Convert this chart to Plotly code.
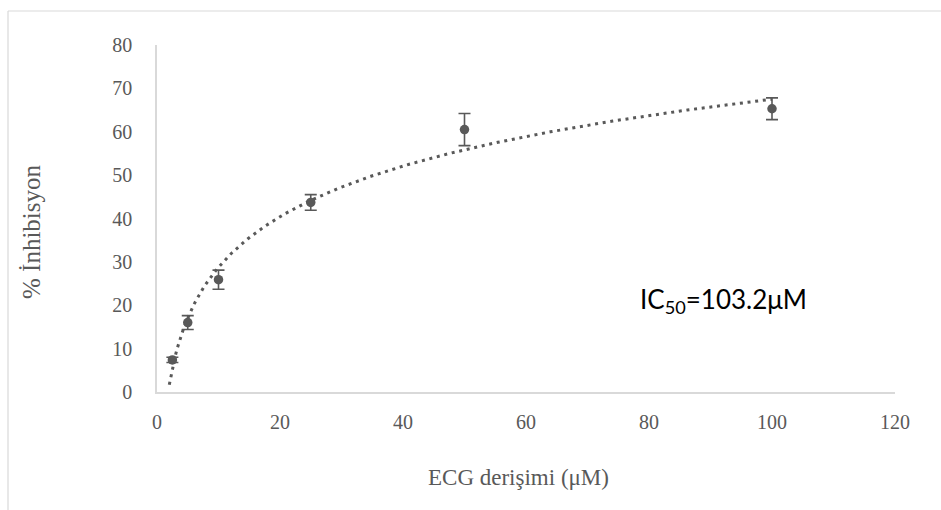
import numpy as np
import plotly.graph_objects as go

# Data
concentration = [2.5, 5, 10, 25, 50, 100]
inhibition = [7.4, 16.0, 25.9, 43.7, 60.5, 65.3]
inhibition_err = [0.6, 1.6, 2.2, 1.8, 3.7, 2.5]
x_ticks = [0, 20, 40, 60, 80, 100, 120]
y_ticks = [0, 10, 20, 30, 40, 50, 60, 70, 80]
trend_start = 2.0
ic50_label = "IC<sub>50</sub>=103.2μM"

# Logarithmic trendline fit (as Excel does)
a, b = np.polyfit(np.log(concentration), inhibition, 1)
tx = np.linspace(trend_start, max(concentration), 300)
ty = a * np.log(tx) + b

grey = "#595959"
fig = go.Figure()
fig.add_trace(go.Scatter(x=tx, y=ty, mode="lines",
                         line=dict(color=grey, width=3, dash="3px,4.7px"),
                         hoverinfo="skip", showlegend=False))
fig.add_trace(go.Scatter(x=concentration, y=inhibition, mode="markers",
                         marker=dict(color=grey, size=9.5),
                         error_y=dict(type="data", array=inhibition_err, visible=True,
                                      color=grey, thickness=1.6, width=6),
                         showlegend=False))

fig.update_layout(
    width=941, height=510,
    margin=dict(l=157, r=46, t=45, b=118),
    paper_bgcolor="white", plot_bgcolor="white",
    xaxis=dict(range=[0, 120], tickvals=x_ticks, showgrid=False, zeroline=False,
               showline=True, linecolor="#d9d9d9", linewidth=1.5, ticks="",
               tickfont=dict(family="Liberation Serif", size=20, color=grey),
               ticklabelstandoff=11),
    yaxis=dict(range=[0, 80], tickvals=y_ticks, showgrid=False, zeroline=False,
               showline=True, linecolor="#d9d9d9", linewidth=1.5, ticks="",
               tickfont=dict(family="Liberation Serif", size=20, color=grey),
               ticklabelstandoff=19),
    annotations=[
        dict(text="ECG derişimi (μM)", xref="paper", yref="paper",
             x=(518 - 157) / 738, y=(392 - 478) / 347, xanchor="center", yanchor="middle",
             showarrow=False, font=dict(family="Liberation Serif", size=23, color=grey)),
        dict(text="% İnhibisyon", xref="paper", yref="paper",
             x=(31 - 157) / 738, y=(392 - 231) / 347, xanchor="center", yanchor="middle",
             textangle=-90, showarrow=False,
             font=dict(family="Liberation Serif", size=25, color=grey)),
        dict(text=ic50_label, xref="paper", yref="paper",
             x=(638 - 157) / 738, y=(392 - 300) / 347, xanchor="left", yanchor="middle",
             showarrow=False, font=dict(family="Lato", size=26, color="black")),
    ],
    shapes=[
        dict(type="line", xref="paper", yref="paper",
             x0=(8 - 157) / 738, x1=(945 - 157) / 738,
             y0=(392 - 11) / 347, y1=(392 - 11) / 347,
             line=dict(color="#d9d9d9", width=1.2)),
        dict(type="line", xref="paper", yref="paper",
             x0=(8 - 157) / 738, x1=(8 - 157) / 738,
             y0=(392 - 11) / 347, y1=(392 - 515) / 347,
             line=dict(color="#d9d9d9", width=1.2)),
    ],
)
fig.write_html("out.html")
